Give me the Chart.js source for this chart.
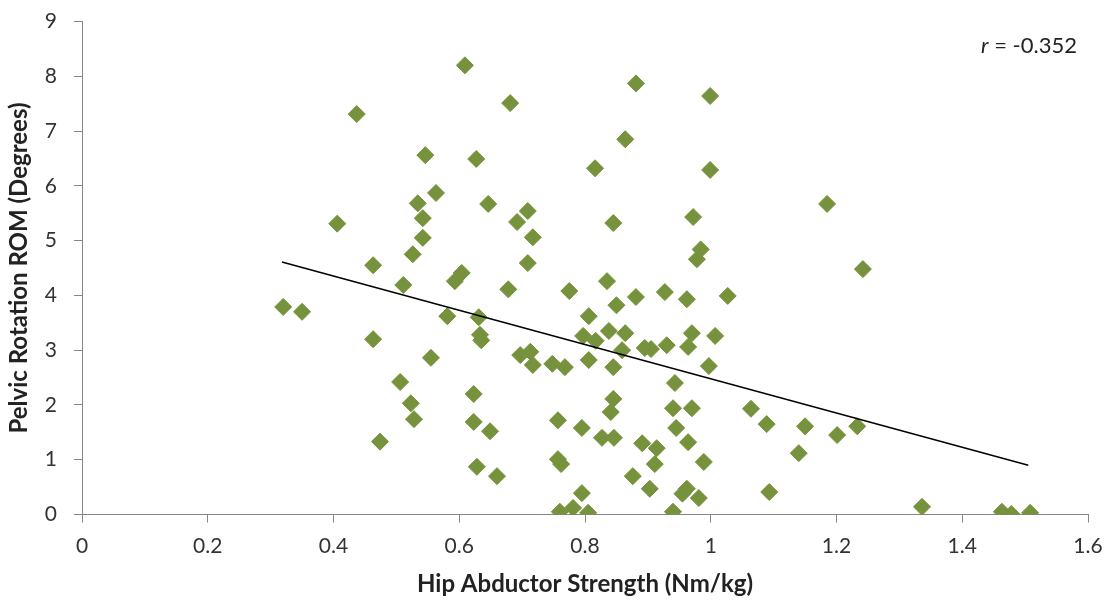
<!DOCTYPE html>
<html>
<head>
<meta charset="utf-8">
<script src="https://cdn.jsdelivr.net/npm/chart.js@4.4.1/dist/chart.umd.min.js"></script>
<style>
  html, body { margin: 0; padding: 0; background: #ffffff; }
  #wrap { width: 1109px; height: 606px; position: relative; }
</style>
</head>
<body>
<div id="wrap"><canvas id="c" width="1109" height="606"></canvas></div>
<script>
// Hip abductor strength (Nm/kg)
const strength = [
  0.320, 0.350, 0.406, 0.437, 0.463, 0.463, 0.474, 0.506, 0.511, 0.523,
  0.526, 0.528, 0.534, 0.542, 0.542, 0.546, 0.555, 0.563, 0.581, 0.593,
  0.604, 0.609, 0.627, 0.623, 0.623, 0.628, 0.631, 0.633, 0.635, 0.646,
  0.649, 0.660, 0.678, 0.681, 0.692, 0.697, 0.709, 0.709, 0.713, 0.717,
  0.717, 0.748, 0.757, 0.757, 0.762, 0.760, 0.768, 0.775, 0.781, 0.795,
  0.795, 0.797, 0.805, 0.806, 0.806, 0.816, 0.817, 0.827, 0.835, 0.838,
  0.841, 0.845, 0.845, 0.845, 0.846, 0.850, 0.859, 0.864, 0.864, 0.876,
  0.881, 0.881, 0.891, 0.895, 0.903, 0.905, 0.911, 0.914, 0.927, 0.930,
  0.940, 0.940, 0.943, 0.945, 0.955, 0.962, 0.962, 0.964, 0.964, 0.970,
  0.970, 0.972, 0.978, 0.981, 0.984, 0.989, 0.999, 0.999, 0.997, 1.007,
  1.027, 1.064, 1.089, 1.093, 1.140, 1.150, 1.185, 1.201, 1.233, 1.242,
  1.336, 1.463, 1.478, 1.508
];
// Pelvic rotation ROM (degrees)
const rom = [
  3.79, 3.70, 5.31, 7.31, 4.55, 3.20, 1.33, 2.42, 4.19, 2.03,
  4.75, 1.74, 5.68, 5.41, 5.05, 6.56, 2.86, 5.87, 3.62, 4.26,
  4.41, 8.20, 6.49, 2.20, 1.69, 0.87, 3.60, 3.28, 3.18, 5.67,
  1.52, 0.70, 4.11, 7.51, 5.34, 2.91, 5.54, 4.59, 2.97, 5.06,
  2.73, 2.75, 1.72, 1.01, 0.92, 0.05, 2.69, 4.08, 0.12, 1.58,
  0.39, 3.26, 0.03, 3.62, 2.82, 6.32, 3.17, 1.40, 4.26, 3.35,
  1.87, 5.32, 2.11, 2.69, 1.40, 3.82, 3.00, 3.31, 6.85, 0.70,
  3.97, 7.87, 1.30, 3.04, 0.47, 3.02, 0.92, 1.21, 4.06, 3.09,
  1.94, 0.05, 2.40, 1.58, 0.38, 3.93, 0.47, 3.06, 1.32, 1.94,
  3.31, 5.43, 4.66, 0.30, 4.84, 0.96, 7.64, 6.29, 2.71, 3.26,
  3.99, 1.93, 1.65, 0.41, 1.12, 1.61, 5.67, 1.45, 1.61, 4.48,
  0.14, 0.05, 0.01, 0.03
];
// Linear trend line endpoints
const trendX = [0.318, 1.505];
const trendY = [4.61, 0.90];

const xTickLabels = ['0', '0.2', '0.4', '0.6', '0.8', '1', '1.2', '1.4', '1.6'];
const yTickLabels = ['0', '1', '2', '3', '4', '5', '6', '7', '8', '9'];
const xTitle = 'Hip Abductor Strength (Nm/kg)';
const yTitle = 'Pelvic Rotation ROM (Degrees)';
const rLabelVar = 'r';
const rLabelValue = ' = -0.352';

const FONT = 'Lato';
const green = '#76923C';
const axisGray = '#868686';

const points = strength.map((x, i) => ({ x: x, y: rom[i] }));
const trend = trendX.map((x, i) => ({ x: x, y: trendY[i] }));

const rLabelPlugin = {
  id: 'rLabel',
  afterDatasetsDraw(chart) {
    const ctx = chart.ctx;
    ctx.save();
    ctx.fillStyle = '#222222';
    ctx.textBaseline = 'middle';
    ctx.textAlign = 'left';
    const fontSize = 22;
    ctx.font = 'italic ' + fontSize + 'px ' + FONT;
    const wR = ctx.measureText(rLabelVar).width;
    ctx.font = fontSize + 'px ' + FONT;
    const wV = ctx.measureText(rLabelValue).width;
    const right = chart.chartArea.right - 11;
    const x0 = right - wR - wV;
    const y0 = chart.chartArea.top + 24;
    ctx.font = 'italic ' + fontSize + 'px ' + FONT;
    ctx.fillText(rLabelVar, x0, y0);
    ctx.font = fontSize + 'px ' + FONT;
    ctx.fillText(rLabelValue, x0 + wR, y0);
    ctx.restore();
  }
};

new Chart(document.getElementById('c'), {
  type: 'scatter',
  data: {
    datasets: [
      {
        label: 'ROM',
        data: points,
        pointStyle: 'rectRot',
        pointRadius: 8.5,
        pointBorderWidth: 1,
        backgroundColor: green,
        borderColor: green,
        order: 2
      },
      {
        type: 'line',
        label: 'Trend',
        data: trend,
        showLine: true,
        borderColor: '#000000',
        borderWidth: 1.5,
        pointRadius: 0,
        fill: false,
        order: 1
      }
    ]
  },
  options: {
    responsive: false,
    animation: false,
    events: [],
    layout: { padding: { top: 21.5, right: 21, left: 0, bottom: 0 } },
    plugins: {
      legend: { display: false },
      tooltip: { enabled: false },
      title: { display: false }
    },
    scales: {
      x: {
        type: 'linear',
        min: 0,
        max: 1.6,
        ticks: {
          stepSize: 0.2,
          padding: 11,
          color: '#333333',
          font: { family: FONT, size: 21 },
          maxRotation: 0,
          callback: (v, i) => xTickLabels[i]
        },
        grid: { display: true, drawOnChartArea: false, drawTicks: true, tickLength: 8, color: axisGray, lineWidth: 1 },
        border: { display: true, color: axisGray, width: 1 },
        title: {
          display: true,
          text: xTitle,
          color: '#222222',
          font: { family: FONT, size: 24, weight: 'bold' },
          padding: { top: 2, bottom: 7 }
        },
        afterFit: (s) => { s.height = 91.5; s.paddingLeft = 0; s.paddingRight = 0; }
      },
      y: {
        type: 'linear',
        min: 0,
        max: 9,
        ticks: {
          stepSize: 1,
          padding: 17,
          color: '#333333',
          font: { family: FONT, size: 21 },
          callback: (v, i) => yTickLabels[i]
        },
        grid: { display: true, drawOnChartArea: false, drawTicks: true, tickLength: 8, color: axisGray, lineWidth: 1 },
        border: { display: true, color: axisGray, width: 1 },
        title: {
          display: true,
          text: yTitle,
          color: '#222222',
          font: { family: FONT, size: 24, weight: 'bold' },
          padding: { top: 5, bottom: 2 }
        },
        afterFit: (s) => { s.width = 82; s.paddingTop = 0; s.paddingBottom = 0; }
      }
    }
  },
  plugins: [rLabelPlugin]
});
</script>
</body>
</html>
